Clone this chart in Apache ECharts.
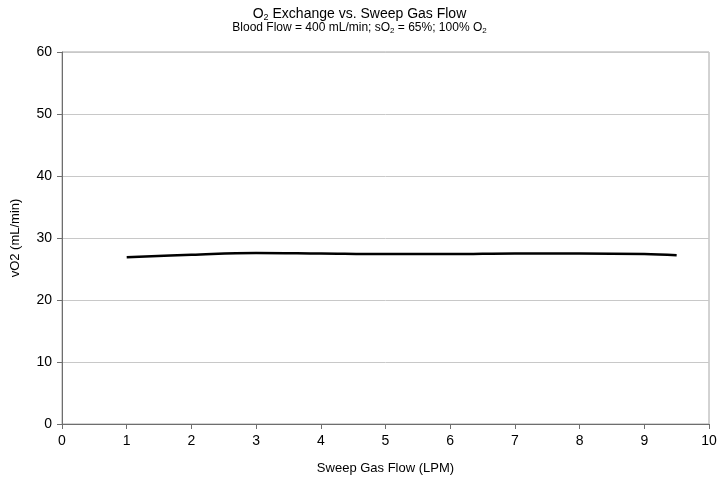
<!DOCTYPE html>
<html>
<head>
<meta charset="utf-8">
<script src="https://cdn.jsdelivr.net/npm/echarts@6/dist/echarts.min.js"></script>
<style>
  html, body { margin: 0; padding: 0; background: #fff; }
  #chart { width: 719px; height: 477px; }
</style>
</head>
<body>
<div id="chart"></div>
<script>
// sweep gas flow (LPM) and O2 transfer (mL/min)
var sweepFlow = [1, 2, 3, 4, 5, 6, 7, 8, 9, 9.5];
var vO2 = [26.9, 27.3, 27.6, 27.5, 27.4, 27.4, 27.5, 27.5, 27.4, 27.2];
var xTicks = [0, 10, 1];
var yTicks = [0, 60, 10];

var chart = echarts.init(document.getElementById('chart'));
var font = 'Liberation Sans, Arial, sans-serif';

chart.setOption({
    animation: false,
    title: {
        left: 'center',
        top: 2,
        itemGap: 0,
        text: '{n|O}{s|2}{n| Exchange vs. Sweep Gas Flow}',
        textStyle: {
            fontWeight: 'normal',
            rich: {
                n: { fontFamily: font, fontSize: 14, fontWeight: 'normal', color: '#000' },
                s: { fontFamily: font, fontSize: 9, fontWeight: 'normal', color: '#000', padding: [6, 0, 0, 0] }
            }
        },
        subtext: '{n|Blood Flow = 400 mL/min; sO}{s|2}{n| = 65%; 100% O}{s|2}',
        subtextStyle: {
            rich: {
                n: { fontFamily: font, fontSize: 12, color: '#000' },
                s: { fontFamily: font, fontSize: 8, color: '#000', padding: [5, 0, 0, 0] }
            }
        }
    },
    grid: {
        left: 62,
        right: 10,
        top: 52,
        bottom: 53,
        outerBoundsMode: 'none',
        show: true,
        borderColor: '#a6a6a6',
        borderWidth: 1
    },
    xAxis: {
        type: 'value',
        min: xTicks[0],
        max: xTicks[1],
        interval: xTicks[2],
        name: 'Sweep Gas Flow (LPM)',
        nameLocation: 'middle',
        nameGap: 38,
        nameTextStyle: { fontFamily: font, fontSize: 13, color: '#000' },
        axisLine: { lineStyle: { color: '#6e6e6e', width: 1 } },
        axisTick: { show: true, length: 5, lineStyle: { color: '#6e6e6e' } },
        axisLabel: { fontFamily: font, fontSize: 14, color: '#000', margin: 10 },
        splitLine: { show: false }
    },
    yAxis: {
        type: 'value',
        min: yTicks[0],
        max: yTicks[1],
        interval: yTicks[2],
        name: 'vO2 (mL/min)',
        nameLocation: 'middle',
        nameGap: 40,
        nameTextStyle: { fontFamily: font, fontSize: 13, color: '#000' },
        axisLine: { show: true, lineStyle: { color: '#6e6e6e', width: 1 } },
        axisTick: { show: true, length: 5, lineStyle: { color: '#6e6e6e' } },
        axisLabel: { fontFamily: font, fontSize: 14, color: '#000', margin: 10 },
        splitLine: { show: true, lineStyle: { color: '#c8c8c8', width: 1 } }
    },
    series: [{
        type: 'line',
        smooth: 0.4,
        showSymbol: false,
        data: sweepFlow.map(function (x, i) { return [x, vO2[i]]; }),
        lineStyle: { color: '#000', width: 2.5 }
    }]
});
</script>
</body>
</html>
